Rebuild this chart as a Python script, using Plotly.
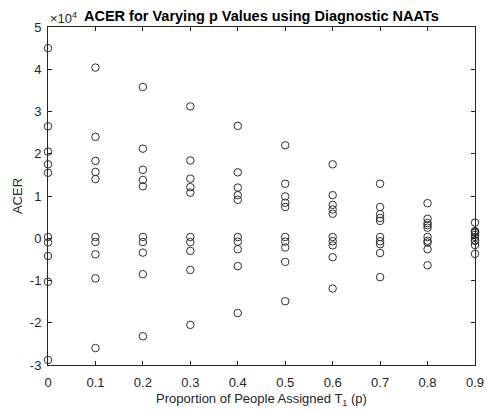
import plotly.graph_objects as go

# Proportion of people assigned T1 (p)
p_values = [0.0, 0.1, 0.2, 0.3, 0.4, 0.5, 0.6, 0.7, 0.8, 0.9]

# ACER values (in units of 1e4) read at each p
acer_p00 = [4.50, 2.65, 2.05, 1.75, 1.55, 0.03, -0.10, -0.42, -1.03, -2.88]
acer_p01 = [4.04, 2.40, 1.83, 1.57, 1.40, 0.03, -0.09, -0.38, -0.95, -2.60]
acer_p02 = [3.58, 2.12, 1.62, 1.38, 1.23, 0.03, -0.09, -0.34, -0.85, -2.32]
acer_p03 = [3.12, 1.84, 1.41, 1.21, 1.08, 0.03, -0.09, -0.30, -0.75, -2.05]
acer_p04 = [2.66, 1.56, 1.20, 1.02, 0.91, 0.03, -0.08, -0.26, -0.66, -1.77]
acer_p05 = [2.20, 1.29, 0.99, 0.84, 0.74, 0.03, -0.08, -0.22, -0.56, -1.49]
acer_p06 = [1.75, 1.02, 0.79, 0.68, 0.58, 0.03, -0.07, -0.17, -0.45, -1.19]
acer_p07 = [1.29, 0.74, 0.57, 0.48, 0.41, 0.03, -0.07, -0.14, -0.35, -0.92]
acer_p08 = [0.83, 0.46, 0.36, 0.31, 0.25, 0.03, -0.06, -0.10, -0.26, -0.64]
acer_p09 = [0.37, 0.17, 0.15, 0.13, 0.08, 0.03, -0.05, -0.06, -0.16, -0.37]

acer_by_p = [acer_p00, acer_p01, acer_p02, acer_p03, acer_p04,
             acer_p05, acer_p06, acer_p07, acer_p08, acer_p09]

x_ticks = [0, 0.1, 0.2, 0.3, 0.4, 0.5, 0.6, 0.7, 0.8, 0.9]
x_tick_labels = ["0", "0.1", "0.2", "0.3", "0.4", "0.5", "0.6", "0.7", "0.8", "0.9"]
y_ticks = [-3, -2, -1, 0, 1, 2, 3, 4, 5]
y_tick_labels = ["-3", "-2", "-1", "0", "1", "2", "3", "4", "5"]

xs, ys = [], []
for p, vals in zip(p_values, acer_by_p):
    for v in vals:
        xs.append(p)
        ys.append(v)

axis_col = "#262626"
font_fam = "Liberation Sans, Arial, sans-serif"

fig = go.Figure()
fig.add_trace(go.Scatter(
    x=xs, y=ys, mode="markers", cliponaxis=False,
    marker=dict(symbol="circle-open", size=7.5, color="#303030",
                line=dict(width=1, color="#303030")),
    showlegend=False,
))

common = dict(showline=True, linecolor=axis_col, linewidth=1, mirror="ticks",
              ticks="inside", ticklen=4, tickcolor=axis_col, tickwidth=1,
              showgrid=False, zeroline=False, ticklabeloverflow="allow",
              tickfont=dict(family=font_fam, size=13, color=axis_col))

fig.update_layout(
    width=490, height=410,
    margin=dict(l=48, r=6, t=27, b=44),
    paper_bgcolor="white", plot_bgcolor="white",
    font=dict(family=font_fam, color=axis_col),
    xaxis=dict(range=[0, 0.9], tickvals=x_ticks, ticktext=x_tick_labels,
               ticklabelstandoff=5,
               title=dict(text="Proportion of People Assigned T<sub>1</sub> (p)",
                          font=dict(family=font_fam, size=13, color=axis_col),
                          standoff=5),
               **common),
    yaxis=dict(range=[-3, 5], tickvals=y_ticks, ticktext=y_tick_labels,
               ticklabelstandoff=3,
               title=dict(text="ACER",
                          font=dict(family=font_fam, size=13, color=axis_col),
                          standoff=4),
               **common),
    annotations=[
        dict(text="<b>ACER for Varying p Values using Diagnostic NAATs</b>",
             x=0.5, y=1, xref="paper", yref="paper", xanchor="center",
             yanchor="bottom", yshift=1, showarrow=False,
             font=dict(family=font_fam, size=14.5, color="black")),
        dict(text="\u00d710<sup>4</sup>", x=0, y=1, xref="paper", yref="paper",
             xanchor="left", yanchor="bottom", xshift=0, yshift=-1,
             showarrow=False, align="left",
             font=dict(family=font_fam, size=13, color=axis_col)),
    ],
)

fig.write_html("out.html",
               config={"displayModeBar": False},
               post_script="document.body.style.margin='0';"
                           "document.body.style.overflow='hidden';")
